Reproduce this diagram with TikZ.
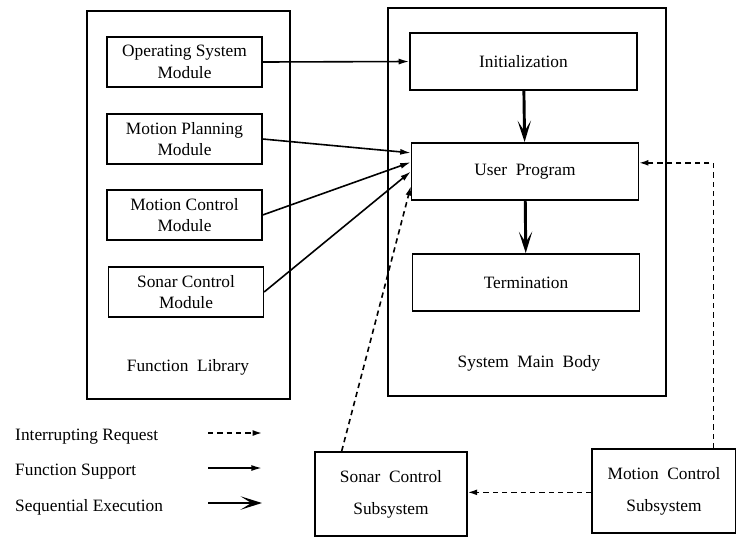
\documentclass[tikz,border=0pt]{standalone}
\usepackage{fontspec}
\setmainfont{Liberation Serif}
\usepackage{tikz}
\usetikzlibrary{arrows.meta,positioning,calc}

\begin{document}
\begin{tikzpicture}[x=0.75pt,y=-0.75pt,font=\fontsize{13}{16}\selectfont,line width=1.2pt,
  modbox/.style={draw,align=center,minimum width=116pt,minimum height=37.5pt,inner sep=2pt},
  mainbox/.style={draw,align=center,minimum width=170pt,minimum height=43pt},
  subbox/.style={draw,align=center,minimum width=114pt,minimum height=63pt,font=\fontsize{13}{24}\selectfont},
  frame/.style={draw,line width=1.3pt},
  support/.style={-{Latex[length=8pt,width=4.5pt]}},
  request/.style={dash pattern=on 4pt off 3pt,-{Latex[length=7pt,width=4.5pt]}},
  sequence/.style={line width=2.2pt,-{Stealth[length=16pt,width=10pt,inset=8pt]}}]
\useasboundingbox (0,0) rectangle (736,537);
% outer frames
\draw[frame] (87,11) rectangle (290,399);
\draw[frame] (388,8) rectangle (666,396);
\node (liblab) at (188,367) {Function~~Library};
\node (bodylab) at (529,363) {System~~Main~~Body};
% function library
\node[modbox] (osm) at (184.5,62) {Operating System\\Module};
\node[modbox] (mpm) at (184.5,139) {Motion Planning\\Module};
\node[modbox] (mcm) at (184.5,215) {Motion Control\\Module};
\node[modbox] (scm) at (186,292) {Sonar Control\\Module};
% main body
\node[mainbox] (init) at (523.5,61.5) {Initialization};
\node[mainbox] (up) at (525,171.5) {User~~Program};
\node[mainbox] (term) at (526,282.5) {Termination};
% subsystems
\node[subbox] (scs) at (391,494) {Sonar~~Control\\Subsystem};
\node[subbox,minimum width=108pt] (mcs) at (664,491) {Motion~~Control\\Subsystem};

\draw[sequence] (init) -- (up);
\draw[sequence] (up) -- (term);
\draw[support] (osm.east) -- (init.west);
\draw[support] (mpm.east) -- ([yshift=14pt]up.west);
\draw[support] (mcm.east) -- ([yshift=7pt]up.west);
\draw[support] (scm.east) -- ([yshift=0pt]up.west);
\draw[request] ([xshift=-37pt]scs.north) -- ([yshift=-11pt]up.west);
\draw[request] ([xshift=37pt]mcs.north) |- ([yshift=6.5pt]up.east);
\draw[request] ([yshift=-1pt]mcs.west) -- ([yshift=-1pt]mcs.west -| scs.east);

% legend
\foreach \y/\lab/\sty in {437/Interrupting Request/request,472/Function Support/support,507/Sequential Execution/sequence} {
  \node[anchor=west] (leg\y) at (10,\y) {\lab};
  \coordinate (legs\y) at (208,\y-4);
  \coordinate (lege\y) at (262,\y-4);
  \draw[\sty] (legs\y) -- (lege\y);
}
\end{tikzpicture}
\end{document}
